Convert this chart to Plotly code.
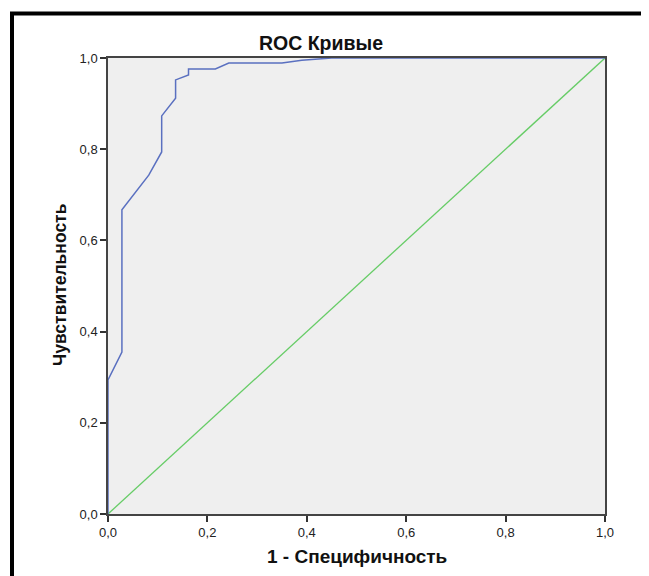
import plotly.graph_objects as go

# ROC curve points (1 - specificity, sensitivity)
fpr = [0.0, 0.0, 0.028, 0.028, 0.082, 0.108, 0.108, 0.136, 0.136, 0.162, 0.162, 0.216, 0.243, 0.35, 0.39, 0.45, 1.0]
tpr = [0.0, 0.294, 0.355, 0.667, 0.743, 0.794, 0.873, 0.912, 0.952, 0.963, 0.976, 0.976, 0.989, 0.989, 0.995, 1.0, 1.0]

# Reference diagonal
diag_x = [0.0, 1.0]
diag_y = [0.0, 1.0]

tick_vals = [0.0, 0.2, 0.4, 0.6, 0.8, 1.0]
tick_text = ["0,0", "0,2", "0,4", "0,6", "0,8", "1,0"]

title_text = "ROC Кривые"
x_title = "1 - Специфичность"
y_title = "Чувствительность"

fig = go.Figure()
fig.add_trace(go.Scatter(x=diag_x, y=diag_y, mode="lines",
                         line=dict(color="#66cc66", width=1.3),
                         showlegend=False, hoverinfo="skip"))
fig.add_trace(go.Scatter(x=fpr, y=tpr, mode="lines",
                         line=dict(color="#5a70c0", width=1.5),
                         showlegend=False))

# page offset (body margin) is 8px
OFF = 8
W, H = 649 - OFF, 576 - OFF
# plot area in page pixels: x 108..605, y 58..514
PX0, PX1, PY0, PY1 = 108, 605, 58, 514
L, R, T, B = PX0 - OFF, W + OFF - PX1, PY0 - OFF, H + OFF - PY1
pw, ph = PX1 - PX0, PY1 - PY0

def px_x(px):
    return (px - PX0) / pw

def px_y(py):
    return (PY1 - py) / ph

axis_common = dict(
    range=[0, 1], tickvals=tick_vals, ticktext=tick_text,
    showgrid=False, zeroline=False, showline=True, mirror=True,
    linecolor="#444444", linewidth=1.5,
    ticks="outside", ticklen=6, tickcolor="#333333", tickwidth=1.5,
    tickfont=dict(family="Liberation Sans, Arial", size=13, color="#222222"),
    fixedrange=True,
)

fig.update_layout(
    width=W, height=H,
    margin=dict(l=L, r=R, t=T, b=B),
    paper_bgcolor="white",
    plot_bgcolor="#efefef",
    xaxis=axis_common,
    yaxis=axis_common,
    title=dict(text="<b>" + title_text + "</b>", x=px_x(321), xref="paper", xanchor="center",
               y=1 - (43 - OFF) / H, yref="container", yanchor="middle",
               font=dict(family="Liberation Sans, Arial", size=19.5, color="#111111")),
    annotations=[
        dict(text="<b>" + x_title + "</b>", x=px_x(357), y=px_y(556), xref="paper", yref="paper",
             showarrow=False, xanchor="center", yanchor="middle",
             font=dict(family="Liberation Sans, Arial", size=19, color="#111111")),
        dict(text="<b>" + y_title + "</b>", x=px_x(60), y=px_y(285), xref="paper", yref="paper",
             showarrow=False, xanchor="center", yanchor="middle", textangle=-90,
             font=dict(family="Liberation Sans, Arial", size=17.5, color="#111111")),
    ],
    shapes=[
        dict(type="line", xref="paper", yref="paper", x0=px_x(12), x1=px_x(12),
             y0=px_y(12), y1=px_y(600), line=dict(color="black", width=4)),
        dict(type="line", xref="paper", yref="paper", x0=px_x(10), x1=px_x(700),
             y0=px_y(13.5), y1=px_y(13.5), line=dict(color="black", width=4)),
    ],
)

fig.write_html("out.html")
